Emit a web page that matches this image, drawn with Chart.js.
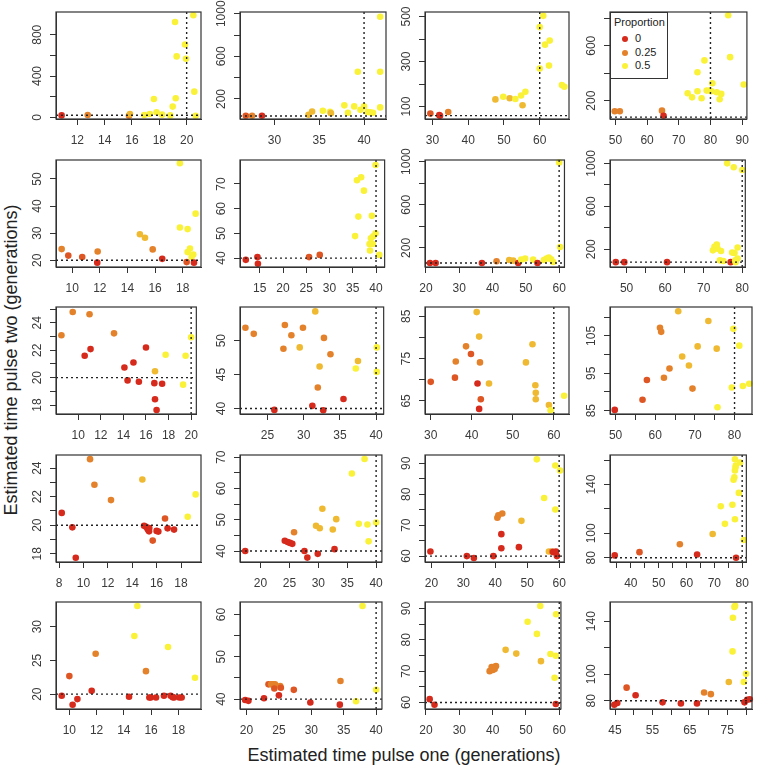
<!DOCTYPE html>
<html>
<head>
<meta charset="utf-8">
<script src="https://cdn.jsdelivr.net/npm/chart.js@4.4.1/dist/chart.umd.min.js"></script>
<style>
  body { margin: 0; background: #fff; width: 757px; height: 766px; position: relative; overflow: hidden;
         font-family: "Liberation Sans", Arial, sans-serif; }
  canvas { position: absolute; }
  .title { position: absolute; white-space: nowrap; font-size: 18px; color: #222; line-height: 18px; }
  #xtitle { left: 404px; top: 755px; transform: translate(-50%, -50%); }
  #ytitle { left: 11px; top: 360px; transform: translate(-50%, -50%) rotate(-90deg); }
  #legend { position: absolute; left: 610px; top: 12px; width: 56px; height: 65px; border: 1px solid #333;
            background: #fff; font-size: 11px; color: #222; z-index: 5; }
  #legend div { position: absolute; line-height: 11px; }
  #legend .dot { width: 6px; height: 6px; border-radius: 50%; }
</style>
</head>
<body>
<div id="ytitle" class="title">Estimated time pulse two (generations)</div>
<div id="xtitle" class="title">Estimated time pulse one (generations)</div>
<div id="legend"></div>
<script>
// true pulse times (one per column): dotted reference lines
const truth = [20, 40, 60, 80];
const legendProps = [0, 0.25, 0.5];

// row 1
const x11 = [10.85,12.76,15.78,15.85,16.9,17.3,17.6,17.8,18.2,18.8,18.98,19.15,19.2,19.27,19.88,19.95,20.49,20.56,20.66];
const y11 = [19,23,16,32,23,32,178,49,26,19,104,923,185,590,706,567,988,249,16];
const p11 = [0,.25,.25,.375,.5,.5,.5,.5,.5,.5,.5,.5,.5,.5,.5,.5,.5,.5,.5];

const x12 = [26.8,27.5,28.6,33.8,34.2,35.4,36.2,36.3,37.8,38.2,38.9,39.3,39.6,40.0,40.4,40.7,41.0,41.8,41.8,41.8];
const y12 = [43,43,43,52,83,89,80,67,140,71,130,455,98,130,77,74,71,972,455,121];
const p12 = [.125,.25,0,.375,.375,.5,.5,.375,.5,.5,.5,.5,.5,.5,.5,.5,.5,.5,.5,.5];

const x13 = [29.4,31.9,32.1,34.4,47.6,49.8,51.6,53.2,54.8,55.2,56.0,60.0,60.0,61.0,61.5,62.8,62.6,66.2,66.9];
const y13 = [69,62,59,76,132,144,137,134,149,106,166,269,453,503,375,393,282,196,188];
const p13 = [.125,0,0,.25,.375,.5,.375,.5,.5,.375,.5,.5,.5,.5,.5,.5,.5,.5,.5];

const x14 = [49.8,51.4,64.7,65.2,72.8,74.2,75.9,75.9,77.2,78.1,78.8,79.8,80.3,80.6,82.0,83.4,82.9,85.6,86.2,90.5];
const y14 = [122,122,127,90,254,224,268,407,217,493,273,273,268,327,261,249,210,822,517,317];
const p14 = [.25,.25,.25,0,.5,.5,.5,.5,.5,.5,.5,.5,.5,.5,.5,.5,.5,.5,.5,.5];

// row 2
const x21 = [9.23,9.71,10.72,11.81,11.84,14.9,15.27,15.83,16.52,17.8,17.8,18.29,18.36,18.36,18.53,18.65,18.77,18.82,18.94];
const y21 = [24.1,21.7,21.2,19.1,23.2,29.6,28.3,24.0,20.5,55.8,32.1,19.3,31.5,23.0,24.3,21.2,22.1,19.1,37.2];
const p21 = [.25,.125,.125,0,.25,.375,.375,.25,0,.5,.5,.125,.5,.5,.5,.5,.5,0,.5];

const x22 = [12.0,14.5,14.6,25.6,27.9,35.5,35.9,36.2,36.8,37.4,38.6,38.7,38.9,39.1,39.3,39.4,39.9,39.9,40.7];
const y22 = [39.3,40.4,37.7,40.4,41.3,48.9,71.5,56.8,72.7,67.3,45.7,43.1,48.0,57.1,45.7,48.8,50,77.7,41.3];
const p22 = [0,0,0,.125,.125,.5,.5,.5,.5,.5,.5,.5,.5,.5,.5,.5,.5,.5,.5];

const x23 = [21.2,22.9,36.8,41.2,45.0,46.2,47.7,48.6,49.8,52.2,53.5,55.4,56.2,56.9,57.6,58.2,60.0,60.3];
const y23 = [60,60,60,76,88,82,60,91,101,91,60,88,101,110,95,70,991,209];
const p23 = [0,0,0,.25,.375,.375,0,.5,.5,.5,0,.5,.5,.5,.5,.5,.5,.5];

const x24 = [47.2,49.4,60.5,72.4,72.8,73.4,73.6,74.5,74.2,75.1,76.1,77.0,77.4,77.8,78.0,78.2,78.3,78.8,78.8,80.0];
const y24 = [80,80,80,190,222,244,206,184,97,91,1000,80,169,963,166,97,80,216,113,938];
const p24 = [0,0,0,.5,.5,.5,.5,.5,.5,.5,.5,0,.5,.5,.5,.5,.5,.5,.5,.5];

// row 3
const x31 = [8.51,9.51,10.57,11.09,11.0,13.17,14.09,14.37,14.89,15.37,16.0,16.8,16.74,16.8,16.94,17.43,17.74,19.29,19.51,20.0];
const y31 = [23.09,24.79,21.6,22.08,24.62,23.23,20.74,19.8,21.1,19.7,22.2,20.47,19.6,18.43,17.64,19.56,21.67,19.49,21.6,22.94];
const p31 = [.25,.25,0,0,.25,.25,0,0,0,0,0,.375,0,0,0,0,.5,.5,.5,.5];

const x32 = [21.95,23.1,25.95,27.2,27.4,28.3,29.45,29.9,31.2,31.6,31.95,32.2,32.7,32.8,33.7,35.5,37.2,37.5,40.1,40.1];
const y32 = [51.9,51.0,39.8,48.8,52.3,50.8,49.0,51.9,40.4,54.3,43.1,46.2,39.76,50.4,48.0,41.4,45.9,47.0,49.0,45.4];
const p32 = [.25,.25,0,.25,.25,.25,.375,.25,0,.375,.25,.375,0,.25,.25,0,.5,.375,.5,.5];

const x33 = [30.0,35.9,36.1,38.6,39.8,41.2,41.4,41.8,41.8,42.0,42.2,44.2,53.2,54.8,55.5,55.6,55.6,58.8,59.2,62.5];
const y33 = [69.5,70.5,74.3,77.9,76.1,86.0,69.1,80.2,63.1,74.1,65.4,69.1,74.1,78.4,68.7,66.9,65.4,64.0,62.8,66.2];
const p33 = [.125,.125,.25,.25,.125,.375,0,.375,0,.25,.125,.375,.375,.375,.375,.375,.375,.375,.5,.5];

const x34 = [49.8,56.8,57.9,61.2,61.5,62.2,63.6,65.8,66.8,68.5,69.4,70.7,73.4,75.5,75.7,79.3,79.7,81.2,82.1,83.7];
const y34 = [85.2,87.9,93.2,107.2,106.1,93.8,96.3,111.6,99.5,97.1,90.9,102.2,109,101.6,85.9,91.2,106.9,102.4,91.6,92.2];
const p34 = [0,.125,.125,.25,.25,.25,.25,.375,.375,.375,.25,.375,.375,.375,.5,.5,.5,.5,.5,.5];

// row 4
const x41 = [8.22,9.09,9.37,10.54,10.9,12.26,14.83,14.97,15.13,15.24,15.32,15.38,15.4,15.68,16.0,16.14,16.69,16.9,17.43,18.55,19.2];
const y41 = [20.86,19.85,17.72,24.63,22.83,21.76,23.2,19.96,19.89,19.77,19.66,19.57,19.8,18.92,19.6,19.55,20.47,19.78,19.69,20.59,22.16];
const p41 = [0,0,0,.25,.25,.25,.375,0,0,0,0,0,0,.125,0,0,.125,0,0,.5,.5];

const x42 = [17.35,24.2,24.7,25.1,25.5,25.8,27.6,28.1,29.6,29.9,30.25,30.7,32.5,32.8,33.1,35.8,37.0,38.0,38.5,38.7,40.0];
const y42 = [40,43.3,42.9,42.6,42.3,46,40,37.9,48.1,39.1,47.3,53.5,46.9,40.6,50.2,64.8,48.7,69.4,48.5,43.1,49.1];
const p42 = [0,0,0,0,0,.25,0,0,.375,0,.375,.375,.375,0,.375,.5,.5,.5,.5,.5,.5];

const x43 = [19.7,31.1,33.3,39.4,40.65,40.96,42.2,41.9,41.9,47.4,48.2,53.0,55.3,56.8,57.8,58.1,59.0,58.8,58.8,59.3,60.3];
const y43 = [61.5,60,59.4,60,72.4,73.2,73.8,67.1,62.55,62.9,71.4,91.3,78.8,61.5,61.5,61.3,61.5,89.3,75.1,60,87.7];
const p43 = [0,0,0,0,.25,.25,.25,0,0,0,.375,.5,.5,.375,.25,0,0,.5,.5,0,.5];

const x44 = [34.2,43.1,57.6,63.8,69.4,72.3,73.8,76.5,76.9,77.2,77.4,77.4,77.6,77.7,77.4,77.8,78.8,79.2,80.6];
const y44 = [81.9,84.6,91.1,82.7,99.5,122.2,107.8,123.5,144,146,111.6,151.6,154,155.7,160.8,80,133.2,158.1,94.6];
const p44 = [0,.125,.25,0,.375,.5,.5,.5,.5,.5,.5,.5,.5,.5,.5,0,.5,.5,.5];

// row 5
const x51 = [9.44,10.0,10.24,10.59,11.64,11.93,14.38,14.77,14.99,15.62,15.87,15.97,16.36,16.94,17.24,17.43,17.58,17.68,18.07,18.24,19.22];
const y51 = [19.76,22.68,18.44,19.27,20.49,26.0,19.61,28.63,33.07,23.41,19.51,19.51,19.51,19.76,26.98,19.76,19.56,19.51,19.51,19.51,22.44];
const p51 = [0,.125,0,0,0,.25,0,.5,.5,.25,0,0,0,0,.5,0,0,0,0,0,.5];

const x52 = [19.8,20.3,22.7,23.4,23.8,24.1,24.4,24.3,25.2,25.3,25.0,27.3,29.85,34.4,34.5,36.9,37.9,40.0];
const y52 = [39.8,39.6,40.2,43.5,43.5,43.5,43.5,42.5,43.1,42.7,40.9,42.2,39.2,38.7,44.3,39.5,62.0,42.2];
const p52 = [0,0,0,.125,.25,.25,.25,.125,.25,.125,0,.125,0,0,.25,.5,.5,.5];

const x53 = [21.1,22.55,39.1,39.7,40.05,40.3,40.6,41.0,43.9,47.1,50.5,53.3,54.5,54.3,57.35,58.96,58.6,59.05,58.96];
const y53 = [61.05,59.26,70.0,71.3,70.4,71.3,70.7,71.6,76.8,75.6,85.8,81.9,73.2,90.8,75.5,74.9,67.9,88.2,59.5];
const p53 = [0,0,.25,.25,.25,.25,.25,.25,.375,.375,.5,.5,.375,.5,.5,.5,.5,.5,0];

const x54 = [44.8,45.6,48.1,50.5,57.7,62.6,66.9,68.8,70.6,75.4,76.4,76.5,76.9,77.1,79.6,79.4,80.0,80.3,81.0];
const y54 = [77.0,78.3,89.9,84.2,78.8,78.0,78.0,86.2,85.0,94.1,117.2,142.5,150.7,151.5,78.8,94.1,100.3,80.7,81.2];
const p54 = [0,0,.125,0,0,0,0,.25,.25,.375,.5,.5,.5,.5,0,.5,.5,0,0];

// axis ranges, tick marks (xt, yt) and labelled ticks (xl, yl; all marks if missing)
const panels = [
  {x:x11, y:y11, p:p11, xlim:[10.44,21.05], ylim:[-16,1020], xt:[12,14,16,18,20], yt:[0,200,400,600,800], yl:[0,400,800]},
  {x:x12, y:y12, p:p12, xlim:[26.15,42.45], ylim:[12,1016], xt:[30,35,40], yt:[200,400,600,800,1000], yl:[200,600,1000]},
  {x:x13, y:y13, p:p13, xlim:[27.9,68.2], ylim:[45,520], xt:[30,40,50,60], yt:[100,200,300,400,500], yl:[100,300,500]},
  {x:x14, y:y14, p:p14, xlim:[48.3,91.5], ylim:[66,846], xt:[50,60,70,80,90], yt:[200,400,600,800], yl:[200,600]},

  {x:x21, y:y21, p:p21, xlim:[8.82,19.33], ylim:[17.5,57.0], xt:[10,12,14,16,18], yt:[20,30,40,50]},
  {x:x22, y:y22, p:p22, xlim:[10.75,41.85], ylim:[36.4,79.7], xt:[15,20,25,30,35,40], yt:[40,50,60,70]},
  {x:x23, y:y23, p:p23, xlim:[19.7,61.6], ylim:[23,1015], xt:[20,30,40,50,60], yt:[200,400,600,800,1000], yl:[200,600,1000]},
  {x:x24, y:y24, p:p24, xlim:[45.7,80.8], ylim:[35,1031], xt:[50,55,60,65,70,75,80], xl:[50,60,70,80], yt:[200,400,600,800,1000], yl:[200,600,1000]},

  {x:x31, y:y31, p:p31, xlim:[8.03,20.46], ylim:[17.35,25.15], xt:[10,12,14,16,18,20], yt:[18,19,20,21,22,23,24,25], yl:[18,20,22,24]},
  {x:x32, y:y32, p:p32, xlim:[21.2,41.05], ylim:[39.2,54.95], xt:[25,30,35,40], yt:[40,45,50]},
  {x:x33, y:y33, p:p33, xlim:[28.6,63.7], ylim:[61.9,87.2], xt:[30,40,50,60], yt:[65,70,75,80,85], yl:[65,75,85]},
  {x:x34, y:y34, p:p34, xlim:[48.6,84.4], ylim:[84.1,112.75], xt:[50,55,60,65,70,75,80], xl:[50,60,70,80], yt:[85,90,95,100,105,110], yl:[85,95,105]},

  {x:x41, y:y41, p:p41, xlim:[7.75,19.64], ylim:[17.42,24.92], xt:[8,10,12,14,16,18], yt:[18,19,20,21,22,23,24], yl:[18,20,22,24]},
  {x:x42, y:y42, p:p42, xlim:[16.45,41.0], ylim:[36.5,70.7], xt:[20,25,30,35,40], yt:[40,45,50,55,60,65,70], yl:[40,50,60,70]},
  {x:x43, y:y43, p:p43, xlim:[18,61.6], ylim:[58.1,92.7], xt:[20,30,40,50,60], yt:[60,65,70,75,80,85,90], yl:[60,70,80,90]},
  {x:x44, y:y44, p:p44, xlim:[32.5,81.5], ylim:[76.5,164.3], xt:[35,40,45,50,55,60,65,70,75,80], xl:[40,50,60,70,80], yt:[80,100,120,140,160], yl:[80,100,140]},

  {x:x51, y:y51, p:p51, xlim:[9.02,19.66], ylim:[17.8,33.66], xt:[10,12,14,16,18], yt:[20,25,30]},
  {x:x52, y:y52, p:p52, xlim:[19.0,40.9], ylim:[37.67,62.96], xt:[20,25,30,35,40], yt:[40,45,50,55,60], yl:[40,50,60]},
  {x:x53, y:y53, p:p53, xlim:[19.7,60.5], ylim:[57.9,92.1], xt:[20,30,40,50,60], yt:[60,65,70,75,80,85,90], yl:[60,70,80,90]},
  {x:x54, y:y54, p:p54, xlim:[43.66,81.6], ylim:[73.8,154.4], xt:[45,50,55,60,65,70,75,80], xl:[45,55,65,75], yt:[80,100,120,140], yl:[80,100,140]},
];

// layout of the 5x4 grid (plot box of each panel)
const colLeft = [56, 240, 425, 610];
const colW = [145, 146, 144, 142];
const rowTop = [12, 160, 307, 455, 602];
const rowH = 107;
const AX_W = 45, AX_H = 30, PAD_T = 16, PAD_R = 5;
const TICK = 6;

const FONT = '"Liberation Sans", Arial, sans-serif';
Chart.defaults.font.family = FONT;
Chart.defaults.font.size = 12;
Chart.defaults.color = '#3a3a3a';

// heat colours: 0 -> red, 0.25 -> orange, 0.5 -> yellow
const red = [214, 42, 28], orange = [228, 130, 44], yellow = [250, 242, 56];
function heat(p) {
  const t = Math.max(0, Math.min(1, p / 0.5));
  const a = t <= 0.5 ? red : orange, b = t <= 0.5 ? orange : yellow;
  const f = t <= 0.5 ? t / 0.5 : (t - 0.5) / 0.5;
  return 'rgb(' + a.map((v, i) => Math.round(v + (b[i] - v) * f)).join(',') + ')';
}

const boxPlugin = {
  id: 'box',
  afterDraw(chart) {
    const {ctx, chartArea: a} = chart;
    ctx.save();
    ctx.strokeStyle = '#333';
    ctx.lineWidth = 1.2;
    ctx.strokeRect(a.left, a.top, a.right - a.left, a.bottom - a.top);
    ctx.restore();
  }
};

const mctx = document.createElement('canvas').getContext('2d');
mctx.font = '12px ' + FONT;

panels.forEach((pn, i) => {
  const r = Math.floor(i / 4), c = i % 4;
  const T = truth[c];
  const cv = document.createElement('canvas');
  cv.width = AX_W + colW[c] + PAD_R;
  cv.height = PAD_T + rowH + AX_H;
  cv.style.left = (colLeft[c] - AX_W) + 'px';
  cv.style.top = (rowTop[r] - PAD_T) + 'px';
  document.body.appendChild(cv);

  const xl = pn.xl || pn.xt, yl = pn.yl || pn.yt;
  const widest = Math.max(...yl.map(v => mctx.measureText(String(v)).width));
  const pts = pn.x.map((v, k) => ({x: v, y: pn.y[k]}));
  const cols = pn.p.map(heat);
  const dotted = {type: 'line', borderColor: '#222', borderWidth: 1.4, borderDash: [2, 3],
                  pointRadius: 0, fill: false, order: 0};

  new Chart(cv, {
    type: 'scatter',
    data: {
      datasets: [
        {data: pts, pointBackgroundColor: cols, pointBorderColor: cols, pointBorderWidth: 0,
         pointRadius: 3.3, clip: false, order: 1},
        Object.assign({data: [{x: T, y: pn.ylim[0]}, {x: T, y: pn.ylim[1]}]}, dotted),
        Object.assign({data: [{x: pn.xlim[0], y: T}, {x: pn.xlim[1], y: T}]}, dotted)
      ]
    },
    options: {
      responsive: false,
      animation: false,
      events: [],
      layout: {padding: {left: 0, top: PAD_T, right: PAD_R, bottom: 0}},
      plugins: {legend: {display: false}, tooltip: {enabled: false}},
      scales: {
        x: {
          type: 'linear', min: pn.xlim[0], max: pn.xlim[1],
          grid: {drawOnChartArea: false, drawTicks: true, tickLength: TICK, color: '#333', tickColor: '#333'},
          border: {display: true, color: '#333', width: 1},
          ticks: {autoSkip: false, maxRotation: 0, padding: 8,
                  callback: v => xl.includes(v) ? String(v) : ''},
          afterBuildTicks: s => { s.ticks = pn.xt.map(v => ({value: v})); },
          afterFit: s => { s.height = AX_H; }
        },
        y: {
          type: 'linear', min: pn.ylim[0], max: pn.ylim[1],
          grid: {drawOnChartArea: false, drawTicks: true, tickLength: TICK, color: '#333', tickColor: '#333'},
          border: {display: true, color: '#333', width: 1},
          ticks: {autoSkip: false, minRotation: 90, maxRotation: 90, crossAlign: 'center',
                  padding: 18.5 - TICK - widest / 2,
                  callback: v => yl.includes(v) ? String(v) : ''},
          afterBuildTicks: s => { s.ticks = pn.yt.map(v => ({value: v})); },
          afterFit: s => { s.width = AX_W; }
        }
      }
    },
    plugins: [boxPlugin]
  });
});

// legend box inside the top-right panel
const lg = document.getElementById('legend');
const title = document.createElement('div');
title.textContent = 'Proportion';
title.style.left = '3px'; title.style.top = '4px';
lg.appendChild(title);
legendProps.forEach((p, k) => {
  const cy = 26 + k * 13.5;
  const dot = document.createElement('div');
  dot.className = 'dot';
  dot.style.background = heat(p);
  dot.style.left = '11px'; dot.style.top = (cy - 3) + 'px';
  const lab = document.createElement('div');
  lab.textContent = String(p);
  lab.style.left = '24px'; lab.style.top = (cy - 6) + 'px';
  lg.appendChild(dot); lg.appendChild(lab);
});
</script>
</body>
</html>
